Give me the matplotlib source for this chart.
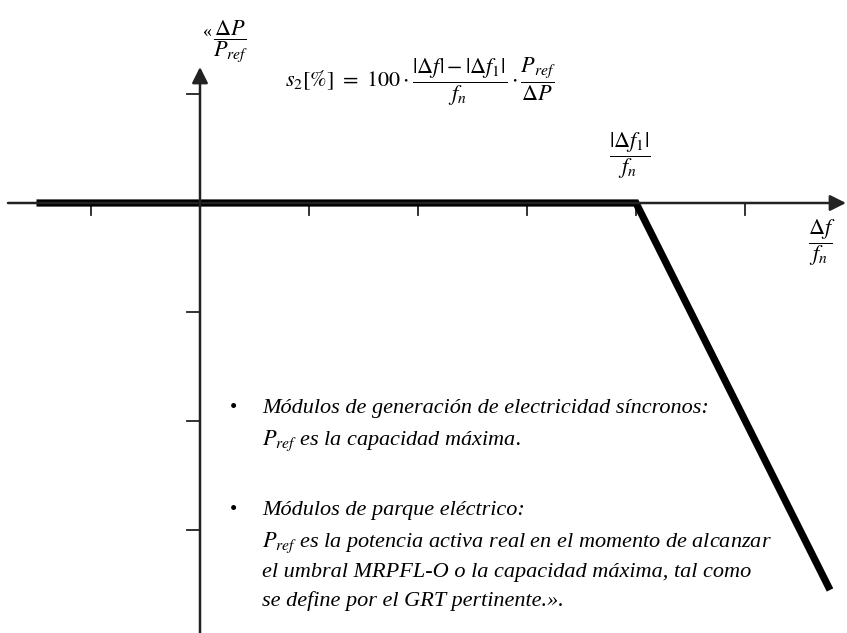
import matplotlib.pyplot as plt

plt.rcParams['mathtext.fontset'] = 'stix'
plt.rcParams['font.family'] = ['Liberation Serif', 'DejaVu Serif']

# characteristic: flat at zero until |df1|/fn, then linear drop
curve_x = [-1.5, 4.0, 5.78]
curve_y = [0.0, 0.0, -3.55]

# tick positions on both axes (in units of the grid)
x_ticks = [-1, 1, 2, 3, 4, 5]
y_ticks = [1, -1, -2, -3]

bullet_lines = [
    'Módulos de generación de electricidad síncronos:',
    r'$P_{ref}$ es la capacidad máxima.',
    'Módulos de parque eléctrico:',
    r'$P_{ref}$ es la potencia activa real en el momento de alcanzar',
    'el umbral MRPFL-O o la capacidad máxima, tal como',
    'se define por el GRT pertinente.».',
]
bullet_rows = [408, 441, 511, 543, 572, 601]
bullet_marks = [True, False, True, False, False, False]

W, H = 847, 633
fig = plt.figure(figsize=(W / 100, H / 100), dpi=100)
ax = fig.add_axes([0, 0, 1, 1])
unit = 109.0
ox, oy = 200.0, 203.0
ax.set_xlim(-ox / unit, (W - ox) / unit)
ax.set_ylim(-(H - oy) / unit, oy / unit)
ax.axis('off')

axis_col = '#222222'
# x axis with arrow
ax.annotate('', xy=((W - 1 - ox) / unit, 0), xytext=(-(ox - 8) / unit, 0),
            arrowprops=dict(arrowstyle='-|>', lw=1.8, color=axis_col,
                            mutation_scale=24, shrinkA=0, shrinkB=0))
# y axis with arrow
ax.annotate('', xy=(0, (oy - 67) / unit), xytext=(0, -(H - oy) / unit),
            arrowprops=dict(arrowstyle='-|>', lw=1.8, color=axis_col,
                            mutation_scale=24, shrinkA=0, shrinkB=0))

tl = 12 / unit
for t in x_ticks:
    ax.plot([t, t], [0, -tl], color=axis_col, lw=1.3)
for t in y_ticks:
    ax.plot([-tl * 1.1, 0], [t, t], color=axis_col, lw=1.3)

ax.plot(curve_x, curve_y, color='black', lw=5.2, solid_capstyle='butt',
        solid_joinstyle='miter')


def fxy(x, y):
    return x / W, 1 - y / H


fig.text(*fxy(203, 32), '«', fontsize=13, ha='left', va='center')
fig.text(*fxy(231, 42), r'$\dfrac{\Delta P}{P_{ref}}$', fontsize=16, ha='center', va='center')
fig.text(*fxy(420, 82),
         r'$s_2[\%]\ =\ 100\cdot\dfrac{|\Delta f| - |\Delta f_1|}{f_n}\cdot\dfrac{P_{ref}}{\Delta P}$',
         fontsize=16, ha='center', va='center')
fig.text(*fxy(630, 156), r'$\dfrac{|\Delta f_1|}{f_n}$', fontsize=16, ha='center', va='center')
fig.text(*fxy(822, 243), r'$\dfrac{\Delta f}{f_n}$', fontsize=16, ha='center', va='center')

for txt, row, mark in zip(bullet_lines, bullet_rows, bullet_marks):
    if mark:
        fig.text(*fxy(233, row), '•', fontsize=15, ha='center', va='center')
    fig.text(*fxy(262, row), txt, fontsize=16, fontstyle='italic',
             ha='left', va='center')

fig.savefig('out.png', dpi=100)
